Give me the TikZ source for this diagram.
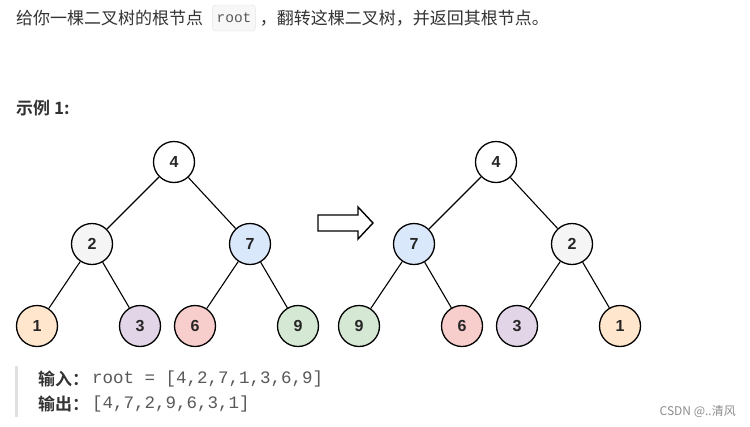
\documentclass[tikz,border=0pt]{standalone}
\usepackage{fontspec}
\setmainfont{Liberation Sans}
\setmonofont{Liberation Mono}
\newfontfamily\cjk{Noto Sans CJK SC}[BoldFont={* Bold}]
\definecolor{txtgray}{HTML}{333333}
\definecolor{codegray}{HTML}{595959}
\definecolor{nodegray}{HTML}{F5F5F5}
\definecolor{nodeblue}{HTML}{DAE8FC}
\definecolor{nodeorange}{HTML}{FFE6CC}
\definecolor{nodepurple}{HTML}{E1D5E7}
\definecolor{nodered}{HTML}{F8CECC}
\definecolor{nodegreen}{HTML}{D5E8D4}
\usetikzlibrary{positioning}

\begin{document}
\begin{tikzpicture}[x=1pt,y=-1pt,
	tnode/.style = {circle, draw, line width=1.3pt, minimum size=41pt, inner sep=0pt,
		font=\fontsize{16}{16}\selectfont\bfseries, text=black!85},
	tedge/.style = {line width=1.1pt},
	cjktext/.style = {font=\cjk\fontsize{17}{19}\selectfont, text=txtgray, inner sep=0pt},
	cjkbold/.style = {cjktext, font=\cjk\bfseries\fontsize{17}{19}\selectfont},
	codetext/.style = {inner sep=0pt, font=\ttfamily\fontsize{17.5}{17.5}\selectfont, text=codegray}]
	\fill[white] (0,0) rectangle (750,426);

	\node[cjktext, anchor=west] (intro) at (16,18) {给你一棵二叉树的根节点};
	\node[draw=black!10, fill=black!3, rounded corners=3pt, minimum height=26pt,
		inner xsep=4pt, font=\ttfamily\fontsize{14.5}{14.5}\selectfont, text=codegray,
		right=9pt of intro] (code) {root};
	\node[cjktext, right=4pt of code] (intro2) {，翻转这棵二叉树，并返回其根节点。};

	\node[cjkbold, anchor=west] (ex) at (16,108) {示例 1:};

	\node[tnode, fill=white]      (l4) at (174,162) {4};
	\node[tnode, fill=nodegray]   (l2) at (92,244)  {2};
	\node[tnode, fill=nodeblue]   (l7) at (250,244) {7};
	\node[tnode, fill=nodeorange] (l1) at (37,326)  {1};
	\node[tnode, fill=nodepurple] (l3) at (140,326) {3};
	\node[tnode, fill=nodered]    (l6) at (195,326) {6};
	\node[tnode, fill=nodegreen]  (l9) at (298,326) {9};
	\draw[tedge] (l4) -- (l2);
	\draw[tedge] (l4) -- (l7);
	\draw[tedge] (l2) -- (l1);
	\draw[tedge] (l2) -- (l3);
	\draw[tedge] (l7) -- (l6);
	\draw[tedge] (l7) -- (l9);

	\draw[line width=1.4pt, line join=miter, fill=white]
		(318,215) -- (358,215) -- (358,207) -- (373,223) -- (358,239) -- (358,231) -- (318,231) -- cycle;

	\node[tnode, fill=white]      (r4) at (496,162) {4};
	\node[tnode, fill=nodeblue]   (r7) at (414,244) {7};
	\node[tnode, fill=nodegray]   (r2) at (572,244) {2};
	\node[tnode, fill=nodegreen]  (r9) at (359,326) {9};
	\node[tnode, fill=nodered]    (r6) at (462,326) {6};
	\node[tnode, fill=nodepurple] (r3) at (517,326) {3};
	\node[tnode, fill=nodeorange] (r1) at (620,326) {1};
	\draw[tedge] (r4) -- (r7);
	\draw[tedge] (r4) -- (r2);
	\draw[tedge] (r7) -- (r9);
	\draw[tedge] (r7) -- (r6);
	\draw[tedge] (r2) -- (r3);
	\draw[tedge] (r2) -- (r1);

	\fill[black!12] (15,366) rectangle (18,417);
	\node[cjkbold, anchor=west] (inlbl) at (38,379) {输入：};
	\node[codetext, anchor=west] (inval) at (92,379) {root = [4,2,7,1,3,6,9]};
	\node[cjkbold, anchor=west] (outlbl) at (38,404) {输出：};
	\node[codetext, anchor=west] (outval) at (92,404) {[4,7,2,9,6,3,1]};

	\node[anchor=east, inner sep=0pt, font=\cjk\fontsize{12}{12}\selectfont, text=black!45] (mark) at (736,411) {CSDN @..清风};
\end{tikzpicture}
\end{document}
